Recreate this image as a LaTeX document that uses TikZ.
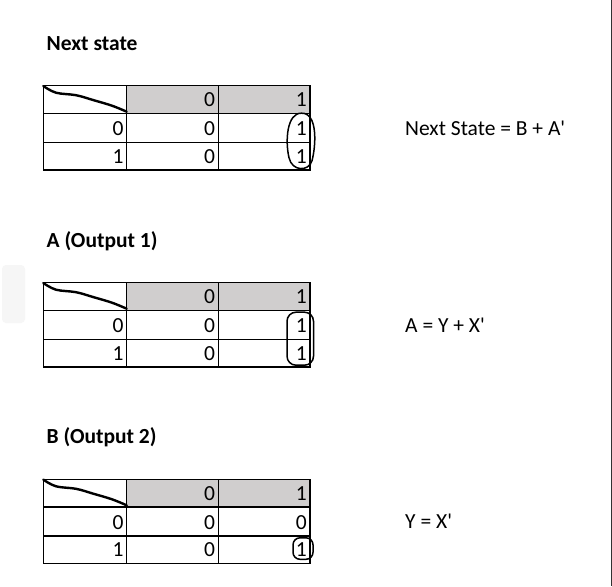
\documentclass[tikz,border=0pt]{standalone}
\usepackage{fontspec}
\setmainfont{Carlito}
\usetikzlibrary{positioning}
\definecolor{headgray}{RGB}{208,206,206}
\definecolor{ghost}{RGB}{246,246,246}

\begin{document}
\begin{tikzpicture}
    [ x=1pt, y=-1pt,
      font={\fontsize{21.5}{26}\selectfont},
      grid/.style={draw=black, line width=1.2pt},
      header/.style={fill=headgray},
      cell/.style={anchor=base east, inner sep=0pt},
      title/.style={anchor=base west, inner sep=0pt,
                    font={\fontsize{21.5}{26}\selectfont\bfseries}},
      formula/.style={anchor=base west, inner sep=0pt},
      scribble/.style={line width=2.4pt, line cap=round, line join=round},
      ring/.style={line width=1.5pt}
    ]
    \newcommand{\kmap}[2]{%
        % shaded header
        \path[header] (126.7, 0) rectangle (310, 27.7);
        % corner scribble
        \draw[scribble] plot[smooth, tension=0.6] coordinates
            {(43.3, 0.3) (56, 7) (76, 9.5) (93, 14.3) (112, 20) (126.7, 26)};
        % grid
        \draw[grid] (43.3, 0) rectangle (310, 84.3);
        \foreach \y in {27.7, 56.7} {
            \draw[grid] (43.3, \y) -- (310, \y);
        }
        \foreach \x in {126.7, 218.3} {
            \draw[grid] (\x, 0) -- (\x, 84.3);
        }
        % entries
        \node[cell] (#1-h0) at (215.3, 20.7) {0};
        \node[cell] (#1-h1) at (307, 20.7) {1};
        \node[cell] (#1-r0) at (123.7, 49.7) {0};
        \node[cell] (#1-r1) at (123.7, 77.6) {1};
        \node[cell] (#1-a) at (215.3, 49.7) {0};
        \node[cell] (#1-b) at (307, 49.7) {#2};
        \node[cell] (#1-c) at (215.3, 77.6) {0};
        \node[cell] (#1-d) at (307, 77.6) {1};
    }

    \useasboundingbox[fill=white] (0, 0) rectangle (612, 586);
    \path[fill=ghost, rounded corners=4pt] (2, 265) rectangle (25, 323);
    \draw[black!80, line width=1pt] (611, 0) -- (611, 586);

    % Next state
    \node[title] (ns-title) at (46.5, 50) {Next state};
    \begin{scope}[shift={(0, 85.7)}]
        \kmap{ns}{1}
        \draw[ring] (301.5, 27.5) .. controls (318, 27) and (316, 60) ..
            (312, 75) .. controls (309, 86) and (292, 86) ..
            (289, 72) .. controls (285, 55) and (287, 27) .. cycle;
        \node[formula] (ns-eq) at (405, 49.3) {Next State = B + A\textquotesingle};
    \end{scope}

    % Output 1
    \node[title] (a-title) at (46.5, 247) {A (Output 1)};
    \begin{scope}[shift={(0, 282.7)}]
        \kmap{a}{1}
        \draw[ring, rounded corners=9pt] (287, 29.5) rectangle (313.5, 82.5);
        \node[formula] (a-eq) at (405, 49.3) {A = Y + X\textquotesingle};
    \end{scope}

    % Output 2
    \node[title] (b-title) at (46.5, 443.6) {B (Output 2)};
    \begin{scope}[shift={(0, 479.3)}]
        \kmap{b}{0}
        \draw[ring, rounded corners=7pt] (293, 58.5) rectangle (313, 80);
        \node[formula] (b-eq) at (405, 49.3) {Y = X\textquotesingle};
    \end{scope}

\end{tikzpicture}
\end{document}
